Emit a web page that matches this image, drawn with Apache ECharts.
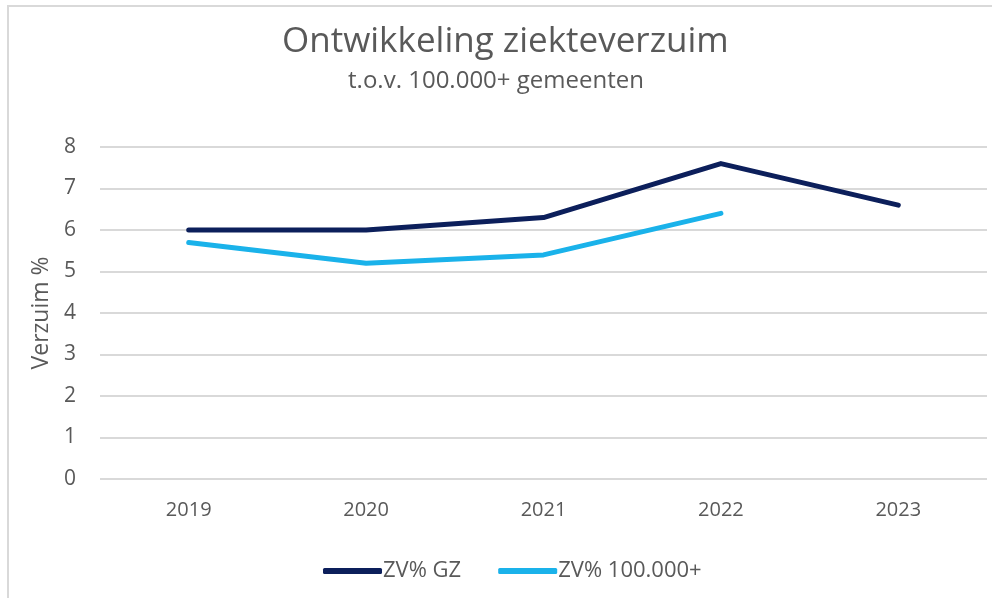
<!DOCTYPE html>
<html>
<head>
<meta charset="utf-8">
<script src="https://cdn.jsdelivr.net/npm/echarts@6/dist/echarts.min.js"></script>
<style>
  html, body { margin: 0; padding: 0; background: #ffffff; }
  #chart { width: 992px; height: 598px; }
</style>
</head>
<body>
<div id="chart"></div>
<script>
// Sick-leave percentages per year
const years = ['2019', '2020', '2021', '2022', '2023'];
const zvGZ = [6.0, 6.0, 6.3, 7.6, 6.6];
const zv100k = [5.7, 5.2, 5.4, 6.4, null];
const yTicks = [0, 1, 2, 3, 4, 5, 6, 7, 8];

const textGrey = '#595959';
const font = 'Open Sans';

const chart = echarts.init(document.getElementById('chart'), null, { renderer: 'canvas' });

chart.setOption({
  backgroundColor: '#ffffff',
  animation: false,
  graphic: [
    {
      type: 'polyline',
      shape: { points: [[8, 600], [8, 6], [992, 6]] },
      style: { stroke: '#d9d9d9', lineWidth: 2, fill: null }
    }
  ],
  title: [
    {
      text: 'Ontwikkeling ziekteverzuim',
      left: 277,
      top: 20,
      textStyle: { fontFamily: font, fontSize: 35, fontWeight: 'normal', color: textGrey }
    },
    {
      text: 't.o.v. 100.000+ gemeenten',
      left: 'center',
      top: 64,
      textStyle: { fontFamily: font, fontSize: 24, fontWeight: 'normal', color: textGrey }
    }
  ],
  legend: {
    left: 318,
    top: 555,
    itemWidth: 59,
    itemHeight: 6,
    itemGap: 37,
    icon: 'roundRect',
    textStyle: { fontFamily: font, fontSize: 22, color: textGrey, padding: [0, 0, 0, -4] },
    data: ['ZV% GZ', 'ZV% 100.000+']
  },
  grid: { left: 100, right: 5, top: 147, bottom: 119 },
  xAxis: {
    type: 'category',
    data: years,
    boundaryGap: true,
    axisLine: { show: false },
    axisTick: { show: false },
    axisLabel: { fontFamily: font, fontSize: 20, color: textGrey, margin: 21 }
  },
  yAxis: {
    type: 'value',
    min: yTicks[0],
    max: yTicks[yTicks.length - 1],
    interval: 1,
    name: 'Verzuim %',
    nameLocation: 'middle',
    nameGap: 47,
    nameRotate: 90,
    nameTextStyle: { fontFamily: font, fontSize: 23, color: textGrey },
    axisLine: { show: false },
    axisTick: { show: false },
    axisLabel: { fontFamily: font, fontSize: 21, color: textGrey, margin: 24 },
    splitLine: { lineStyle: { color: '#d9d9d9', width: 2 } }
  },
  series: [
    {
      name: 'ZV% GZ',
      type: 'line',
      data: zvGZ,
      symbol: 'none',
      lineStyle: { color: '#0c1f5b', width: 5, cap: 'round', join: 'round' },
      itemStyle: { color: '#0c1f5b' }
    },
    {
      name: 'ZV% 100.000+',
      type: 'line',
      data: zv100k,
      symbol: 'none',
      lineStyle: { color: '#1ab2ea', width: 5, cap: 'round', join: 'round' },
      itemStyle: { color: '#1ab2ea' }
    }
  ]
});
</script>
</body>
</html>
